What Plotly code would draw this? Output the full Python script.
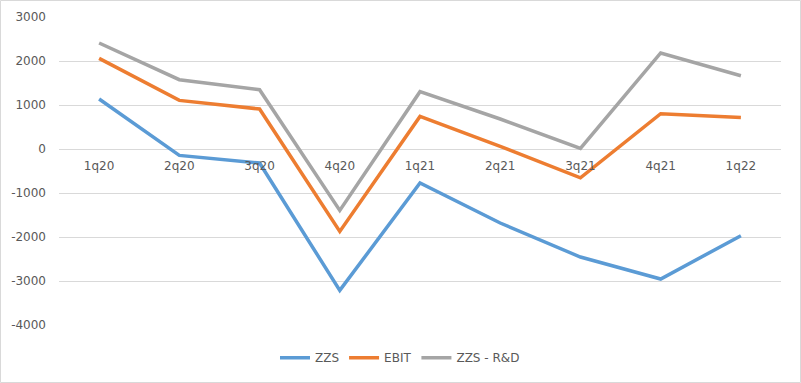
import plotly.graph_objects as go

quarters = ["1q20", "2q20", "3q20", "4q20", "1q21", "2q21", "3q21", "4q21", "1q22"]
zzs = [1136, -145, -318, -3214, -773, -1682, -2455, -2955, -1970]
ebit = [2060, 1105, 909, -1873, 741, 59, -655, 802, 718]
zzs_rd = [2409, 1575, 1348, -1395, 1302, 682, 14, 2182, 1666]
y_tick_vals = [-4000, -3000, -2000, -1000, 0, 1000, 2000, 3000]
y_tick_text = ["-4000", "-3000", "-2000", "-1000", "0", "1000", "2000", "3000"]

series = [("ZZS", zzs, "#5B9BD5"), ("EBIT", ebit, "#ED7D31"), ("ZZS - R&D", zzs_rd, "#A5A5A5")]

fig = go.Figure()
for name, vals, col in series:
    fig.add_trace(go.Scatter(x=quarters, y=vals, name=name, mode="lines",
                             line=dict(color=col, width=3.5)))

W, H = 801, 383
ml, mr, mt, mb = 59, 20, 17, 58
pw, ph = W - ml - mr, H - mt - mb

fig.update_layout(
    width=W, height=H,
    margin=dict(l=ml, r=mr, t=mt, b=mb, autoexpand=False),
    paper_bgcolor="white", plot_bgcolor="white",
    font=dict(family="DejaVu Sans", size=12, color="#595959"),
    showlegend=True,
    legend=dict(orientation="h", x=(400 - ml) / pw, xanchor="center",
                y=-(357.7 - (H - mb)) / ph, yanchor="middle",
                font=dict(size=12, color="#595959"), itemwidth=30),
    xaxis=dict(type="category", showgrid=False, showline=False, zeroline=False,
               anchor="free", position=4 / 7, ticks="", ticklabelstandoff=8,
               range=[-0.5, 8.5], automargin=False),
    yaxis=dict(range=[-4000, 3000], tickmode="array", tickvals=y_tick_vals,
               ticktext=y_tick_text, showgrid=True, gridcolor="#D9D9D9",
               gridwidth=1, zeroline=True, zerolinecolor="#D9D9D9", zerolinewidth=1,
               showline=False, ticks="", ticklabelstandoff=12, automargin=False),
    shapes=[dict(type="rect", xref="paper", yref="paper",
                 x0=(0.5 - ml) / pw, x1=(W - 0.5 - ml) / pw,
                 y0=-(mb - 0.5) / ph, y1=1 + (mt - 0.5) / ph,
                 line=dict(color="#D9D9D9", width=1), layer="below")],
)

fig.write_html("out.html", config={"displayModeBar": False},
               post_script="document.body.style.margin='0';")
